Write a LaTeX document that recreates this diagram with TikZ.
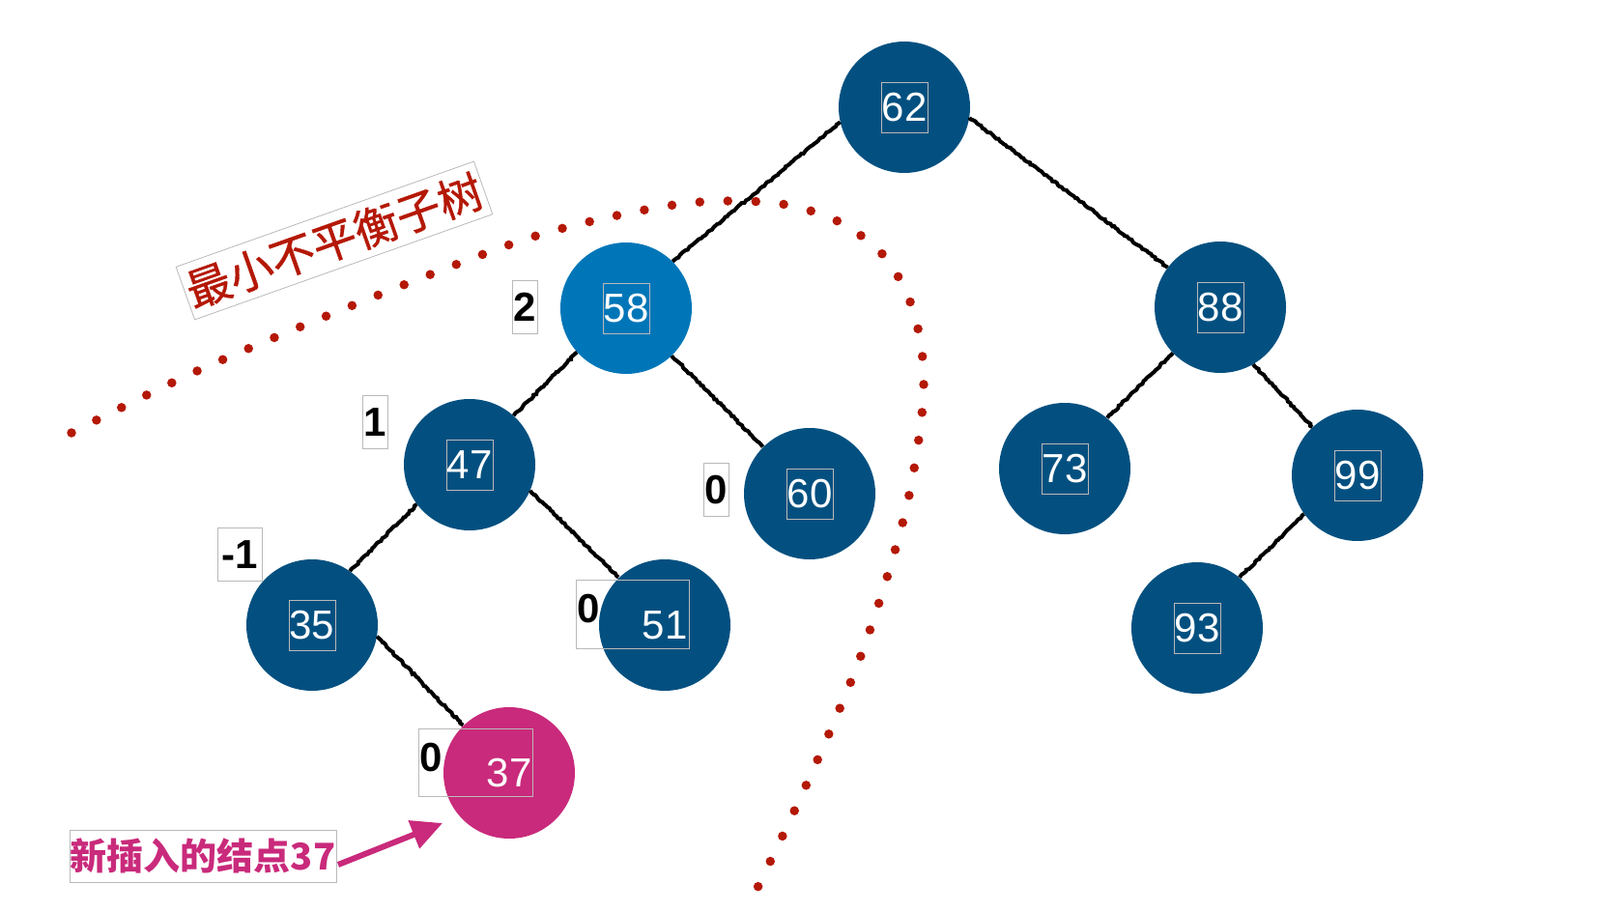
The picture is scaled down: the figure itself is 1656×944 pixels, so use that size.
\documentclass[tikz,border=0pt]{standalone}
\usepackage{fontspec}
\setmainfont{Liberation Sans}
\newfontfamily\cjk{Noto Sans CJK SC}
\newfontfamily\cjkmed{Noto Sans CJK SC}[FakeBold=0.8]
\usetikzlibrary{arrows.meta,decorations.pathmorphing}
\definecolor{nodeblue}{RGB}{3,80,128}
\definecolor{lightblue}{RGB}{0,118,184}
\definecolor{newmag}{RGB}{201,42,123}
\definecolor{dotred}{RGB}{180,24,6}
\definecolor{boxgray}{RGB}{185,185,185}
\begin{document}
\begin{tikzpicture}[x=1pt,y=-1pt,
  tnode/.style={circle,fill=nodeblue,minimum size=136pt,inner sep=0pt},
  numbox/.style={draw=boxgray,line width=0.8pt,text=white,font=\fontsize{42}{48}\selectfont,minimum width=48pt,minimum height=52pt,inner sep=0pt},
  numtxt/.style={text=white,font=\fontsize{42}{48}\selectfont,inner sep=0pt},
  bal/.style={draw=boxgray,line width=0.8pt,font=\bfseries\fontsize{42}{48}\selectfont,minimum height=55pt,minimum width=26pt,inner sep=0pt},
  baltxt/.style={font=\bfseries\fontsize{42}{48}\selectfont,inner sep=0pt},
  combobox/.style={draw=boxgray,line width=0.8pt,inner sep=0pt},
  edgeline/.style={line width=4pt,decorate,decoration={random steps,segment length=2.5pt,amplitude=0.9pt}}]
\useasboundingbox (0,0) rectangle (1656,944);
% tree nodes
\node[tnode] (n62) at (936,111) {};
\node[tnode,fill=lightblue] (n58) at (648,319) {};
\node[tnode] (n88) at (1263,318) {};
\node[tnode] (n47) at (486,481) {};
\node[tnode] (n60) at (838,511) {};
\node[tnode] (n73) at (1102,485) {};
\node[tnode] (n99) at (1405,492) {};
\node[tnode] (n35) at (323,647) {};
\node[tnode] (n51) at (688,647) {};
\node[tnode] (n93) at (1239,650) {};
\node[tnode,fill=newmag] (n37) at (527,800) {};
% edges
\draw[edgeline] (n62.193) -- (n58.45);
\draw[edgeline] (n62.351) -- (n88.143);
\draw[edgeline] (n58.222) -- (n47.48);
\draw[edgeline] (n58.314) -- (n60.135);
\draw[edgeline] (n47.217) -- (n35.55);
\draw[edgeline] (n47.337) -- (n51.134);
\draw[edgeline] (n35.350) -- (n37.134);
\draw[edgeline] (n88.224) -- (n73.50);
\draw[edgeline] (n88.300) -- (n99.133);
\draw[edgeline] (n99.216) -- (n93.50);
% numbers
\node[numbox] (b62) at (n62) {62};
\node[numbox] (b58) at (n58) {58};
\node[numbox] (b88) at (n88) {88};
\node[numbox] (b47) at (n47) {47};
\node[numbox] (b60) at (n60) {60};
\node[numbox] (b73) at (n73) {73};
\node[numbox] (b99) at (n99) {99};
\node[numbox] (b35) at (n35) {35};
\node[numbox] (b93) at (n93) {93};
\node[numtxt] (b51) at (n51) {51};
\node[numtxt] (b37) at (n37) {37};
\node[combobox,minimum width=117pt,minimum height=71pt] (c51) at (654.5,635.5) {};
\node[combobox,minimum width=118pt,minimum height=70pt] (c37) at (492,789) {};
% balance factors
\node[bal] (f58) at (543,318) {2};
\node[bal] (f47) at (388,437) {1};
\node[bal,minimum width=46pt] (f35) at (248,574) {-1};
\node[bal] (f60) at (741,507) {0};
\node[baltxt] (f51) at (609,630) {0};
\node[baltxt] (f37) at (446,784) {0};
% dotted boundary of the minimal unbalanced subtree
\draw[dotred,line width=9.5pt,line cap=round,dash pattern=on 0pt off 29pt]
  plot[smooth,tension=0.55] coordinates {(74,448) (204,384) (370,314) (528,253) (612,229) (698,212) (756,208) (814,212) (869,230) (915,265) (943,315) (955,372) (954,430) (940,517) (917,601) (889,684) (856,764) (820,844) (782,923)};
% title
\node[draw=boxgray,line width=0.8pt,rotate=19.5,minimum width=327pt,minimum height=58pt,inner sep=0pt,text=dotred,font=\cjkmed\fontsize{46}{50}\selectfont] (title) at (346,249) {最小不平衡子树};
% new node label
\node[draw=boxgray,line width=0.8pt,minimum width=276pt,minimum height=54pt,inner sep=0pt,text=newmag,font=\cjk\bfseries\fontsize{38}{44}\selectfont] (newlbl) at (210,886) {新插入的结点37};
\coordinate (arrS) at (350,895);
\coordinate (arrT) at (458,852);
\draw[newmag,line width=6pt,-{Triangle[length=32pt,width=30pt]}] (arrS) -- (arrT);
\end{tikzpicture}
\end{document}
